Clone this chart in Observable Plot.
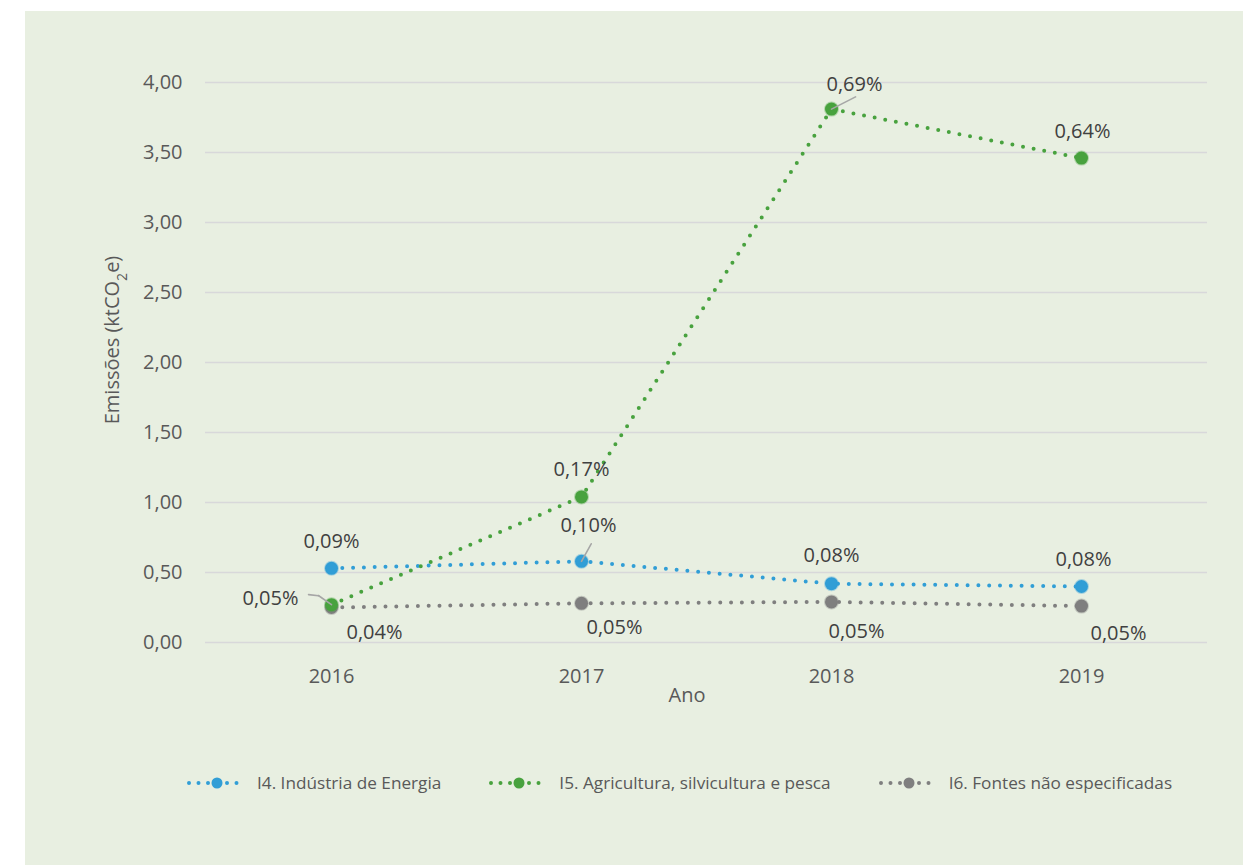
<!DOCTYPE html>
<html>
<head>
<meta charset="utf-8">
<script src="https://cdn.jsdelivr.net/npm/d3@7"></script>
<script src="https://cdn.jsdelivr.net/npm/@observablehq/plot@0.6"></script>
<style>
  html, body { margin: 0; padding: 0; background: #ffffff; }
  body { width: 1243px; height: 865px; position: relative; overflow: hidden; font-family: "Open Sans", sans-serif; }
  #panel { position: absolute; left: 25px; top: 11px; width: 1218px; height: 854px; background: #e8efe1; }
  #chart { position: absolute; left: 0; top: 0; }
  #legend { position: absolute; left: 161px; top: 760px; display: flex; align-items: center; gap: 47px; color: #595959; font-size: 17.2px; }
  .item { display: flex; align-items: center; gap: 9px; }
</style>
</head>
<body>
<div id="panel">
  <div id="chart"></div>
  <div id="legend"></div>
</div>
<script>
// ---- data ----
const years = ["2016", "2017", "2018", "2019"];
const seriesNames = ["I4. Indústria de Energia", "I5. Agricultura, silvicultura e pesca", "I6. Fontes não especificadas"];
const energia = [0.53, 0.58, 0.42, 0.40];
const agricultura = [0.27, 1.04, 3.81, 3.46];
const fontes = [0.25, 0.28, 0.29, 0.26];
const energiaPct = ["0,09%", "0,10%", "0,08%", "0,08%"];
const agriculturaPct = ["0,05%", "0,17%", "0,69%", "0,64%"];
const fontesPct = ["0,04%", "0,05%", "0,05%", "0,05%"];
const yTicks = [0, 0.5, 1, 1.5, 2, 2.5, 3, 3.5, 4];

// ---- styling / layout (not data) ----
const colors = ["#319ed6", "#48a23e", "#7f7f7f"];
const labelOffsets = [
  [[0, -27], [7, -36], [0, -28], [2, -27]],
  [[-61, -6], [0, -27], [23, -25], [1, -27]],
  [[43, 25], [33, 24], [25, 30], [37, 27]]
];

const seriesValues = [energia, agricultura, fontes];
const seriesPct = [energiaPct, agriculturaPct, fontesPct];
const rows = [];
seriesValues.forEach((vals, s) => {
  years.forEach((y, i) => {
    rows.push({series: seriesNames[s], s, year: y, value: vals[i], pct: seriesPct[s][i],
               dx: labelOffsets[s][i][0], dy: labelOffsets[s][i][1]});
  });
});
const bySeries = s => rows.filter(d => d.s === s);
const drawOrder = [2, 0, 1];

const lineShape = {draw(ctx, l) { ctx.moveTo(0, 0); ctx.lineTo(0, -l); }};
const leaders = [
  {year: "2017", value: energia[1], rotate: 29, length: 20, dx: 0, dy: 0},
  {year: "2018", value: agricultura[2], rotate: 63, length: 27, dx: 0, dy: 0},
  {year: "2016", value: agricultura[0], rotate: -55, length: 16, dx: 0, dy: 0},
  {year: "2016", value: agricultura[0], rotate: -84, length: 10, dx: -13, dy: -9}
];

const marks = [
  Plot.gridY(yTicks, {stroke: "#d8d8da", strokeOpacity: 1, strokeWidth: 1.6}),
  Plot.axisY({ticks: yTicks, tickSize: 0, tickPadding: 23, fontSize: 20, fill: "#595959",
              tickFormat: d => d.toFixed(2).replace(".", ","), label: null}),
  Plot.axisX({tickSize: 0, tickPadding: 26, fontSize: 20, fill: "#595959", label: null})
];
for (const s of drawOrder) {
  marks.push(Plot.line(bySeries(s), {x: "year", y: "value", stroke: colors[s], strokeWidth: 4,
    strokeDasharray: "0,10.8", strokeLinecap: "round", curve: "linear"}));
}
for (const s of drawOrder) {
  marks.push(Plot.dot(bySeries(s), {x: "year", y: "value", r: 6.5, fill: colors[s], stroke: colors[s], strokeOpacity: 0.35, strokeWidth: 2}));
}
for (const l of leaders) {
  marks.push(Plot.vector([l], {x: "year", y: "value", rotate: l.rotate, length: l.length, anchor: "start",
    shape: lineShape, stroke: "#a6a6a6", strokeWidth: 1.6, dx: l.dx, dy: l.dy}));
}
for (const s of drawOrder) {
  for (const d of bySeries(s)) {
    marks.push(Plot.text([d], {x: "year", y: "value", text: "pct", dx: d.dx, dy: d.dy,
      fontSize: 20, fill: "#404040", textAnchor: "middle", lineAnchor: "middle"}));
  }
}

const chart = Plot.plot({
  width: 1218, height: 720,
  marginLeft: 180, marginRight: 36, marginTop: 71, marginBottom: 89,
  style: {background: "transparent", fontFamily: "Open Sans, sans-serif"},
  x: {type: "point", domain: years, padding: 0.5},
  y: {domain: [0, 4]},
  marks
});

const svg = d3.select(chart);
svg.append("text").attr("x", 662).attr("y", 686).attr("text-anchor", "middle")
  .attr("dominant-baseline", "middle").attr("fill", "#595959").attr("font-size", 20)
  .attr("font-family", "Open Sans, sans-serif").text("Ano");
const yl = svg.append("text").attr("transform", "translate(89,329) rotate(-90)")
  .attr("text-anchor", "middle").attr("dominant-baseline", "middle").attr("fill", "#595959")
  .attr("font-size", 20).attr("font-family", "Open Sans, sans-serif");
yl.append("tspan").text("Emissões (ktCO");
yl.append("tspan").attr("baseline-shift", "sub").attr("font-size", 14).text("2");
yl.append("tspan").text("e)");

document.getElementById("chart").appendChild(chart);

// legend
const legend = d3.select("#legend");
seriesNames.forEach((name, s) => {
  const item = legend.append("div").attr("class", "item");
  const sv = item.append("svg").attr("width", 62).attr("height", 16);
  sv.append("line").attr("x1", 3).attr("x2", 60).attr("y1", 8).attr("y2", 8)
    .attr("stroke", colors[s]).attr("stroke-width", 4).attr("stroke-linecap", "round")
    .attr("stroke-dasharray", "0,9.5");
  sv.append("circle").attr("cx", 31).attr("cy", 8).attr("r", 5.5).attr("fill", colors[s]);
  item.append("span").text(name);
});
</script>
</body>
</html>
